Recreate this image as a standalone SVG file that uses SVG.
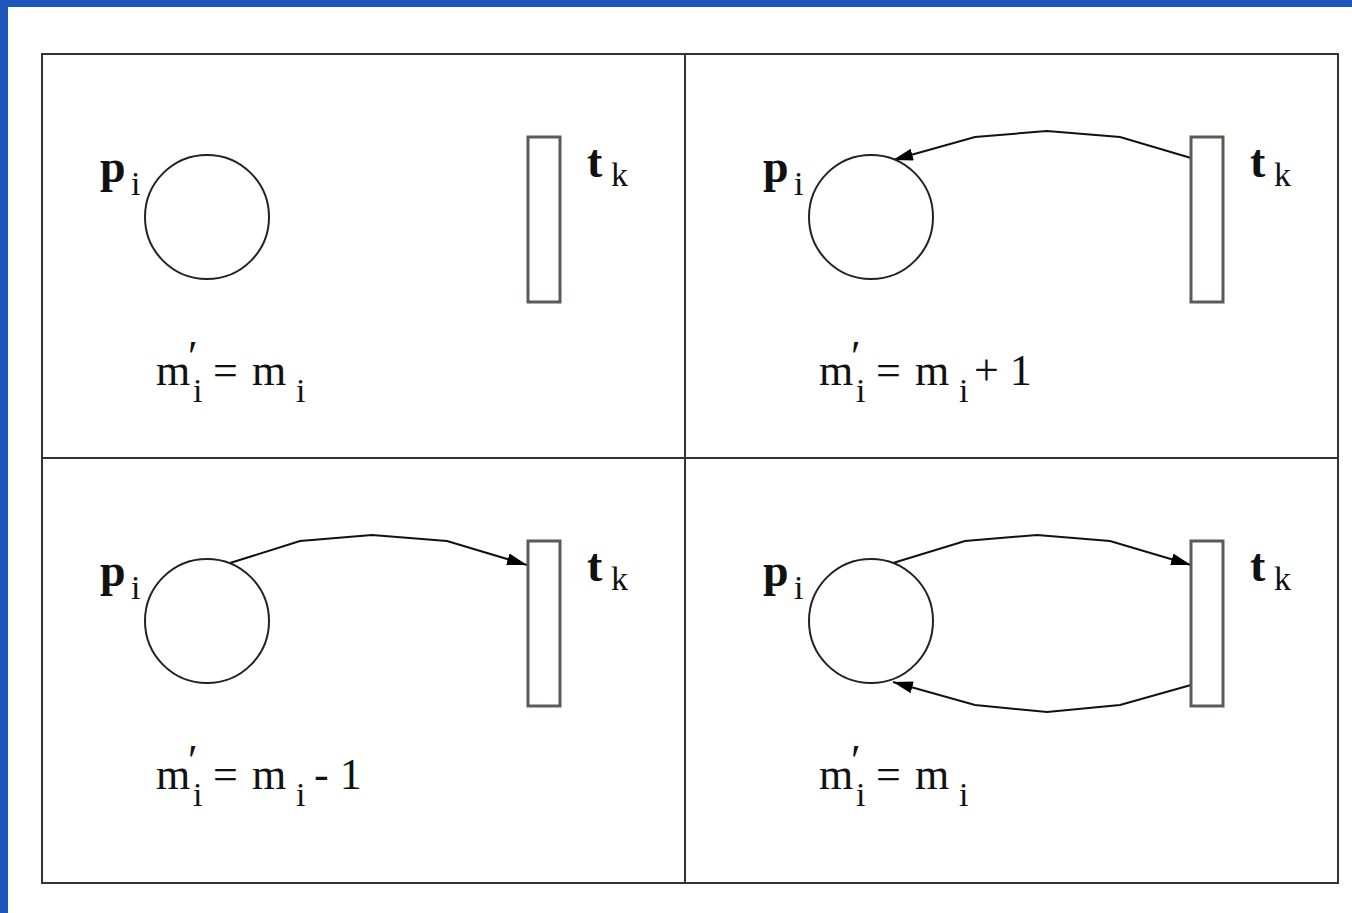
<svg xmlns="http://www.w3.org/2000/svg" width="1352" height="913" viewBox="0 0 1352 913">
<defs>
<marker id="ah2" viewBox="0 0 20 12" refX="20" refY="6" markerWidth="20" markerHeight="12" markerUnits="userSpaceOnUse" orient="auto">
<path d="M0,0 L20,6 L0,12 z" fill="#000"/>
</marker>
</defs>
<style>
.frame{fill:none;stroke:#333;stroke-width:2}
.place{fill:#fff;stroke:#222;stroke-width:2}
.trans{fill:#fff;stroke:#555e55;stroke-width:3}
.arc{fill:none;stroke:#111;stroke-width:2;marker-end:url(#ah2)}
.lbl{font-family:"Liberation Serif",serif;font-weight:bold;font-size:46px;fill:#111}
.sub{font-family:"Liberation Serif",serif;font-size:34px;font-weight:normal}
.eq{font-family:"Liberation Serif",serif;font-size:44px;fill:#111}
</style>
<rect x="0" y="0" width="1352" height="913" fill="#fff"/>
<rect x="0" y="0" width="1352" height="7" fill="#1f56bb"/>
<rect x="0" y="0" width="8" height="913" fill="#1f56bb"/>
<g id="frame">
<rect class="frame" x="42" y="54" width="1296" height="829"/>
<line class="frame" x1="685" y1="54" x2="685" y2="883"/>
<line class="frame" x1="42" y1="458" x2="1338" y2="458"/>
</g>
<g id="connectors">
<polyline class="arc" points="1191,158 1120,137 1047,131 975,137 893,160"/>
<polyline class="arc" points="230,563 300,541 372,535 447,541 527,565"/>
<polyline class="arc" points="893,563 965,541 1037,535 1110,541 1191,565"/>
<polyline class="arc" points="1191,685 1120,705 1047,712 975,705 893,682"/>
</g>
<g id="q1">
<circle class="place" cx="207" cy="217" r="62"/>
<rect class="trans" x="528" y="137" width="32" height="165"/>
<text class="lbl" x="100" y="182">p<tspan class="sub" x="131" y="195">i</tspan></text>
<text class="lbl" x="587" y="177">t<tspan class="sub" x="611" y="186">k</tspan></text>
<text class="eq" x="156" y="385">m<tspan x="188" y="371">′</tspan><tspan class="sub" x="193" y="402">i</tspan><tspan x="213" y="385">=</tspan><tspan x="252" y="385">m</tspan><tspan class="sub" x="296" y="402">i</tspan></text>
</g>
<g id="q2">
<circle class="place" cx="871" cy="217" r="62"/>
<rect class="trans" x="1191" y="137" width="32" height="165"/>
<text class="lbl" x="763" y="182">p<tspan class="sub" x="794" y="195">i</tspan></text>
<text class="lbl" x="1250" y="177">t<tspan class="sub" x="1274" y="186">k</tspan></text>
<text class="eq" x="819" y="385">m<tspan x="851" y="371">′</tspan><tspan class="sub" x="856" y="402">i</tspan><tspan x="876" y="385">=</tspan><tspan x="915" y="385">m</tspan><tspan class="sub" x="959" y="402">i</tspan><tspan x="974" y="385">+ 1</tspan></text>
</g>
<g id="q3">
<circle class="place" cx="207" cy="621" r="62"/>
<rect class="trans" x="528" y="541" width="32" height="165"/>
<text class="lbl" x="100" y="586">p<tspan class="sub" x="131" y="599">i</tspan></text>
<text class="lbl" x="587" y="581">t<tspan class="sub" x="611" y="590">k</tspan></text>
<text class="eq" x="156" y="789">m<tspan x="188" y="775">′</tspan><tspan class="sub" x="193" y="806">i</tspan><tspan x="213" y="789">=</tspan><tspan x="252" y="789">m</tspan><tspan class="sub" x="296" y="806">i</tspan><tspan x="314" y="789">- 1</tspan></text>
</g>
<g id="q4">
<circle class="place" cx="871" cy="621" r="62"/>
<rect class="trans" x="1191" y="541" width="32" height="165"/>
<text class="lbl" x="763" y="586">p<tspan class="sub" x="794" y="599">i</tspan></text>
<text class="lbl" x="1250" y="581">t<tspan class="sub" x="1274" y="590">k</tspan></text>
<text class="eq" x="819" y="789">m<tspan x="851" y="775">′</tspan><tspan class="sub" x="856" y="806">i</tspan><tspan x="876" y="789">=</tspan><tspan x="915" y="789">m</tspan><tspan class="sub" x="959" y="806">i</tspan></text>
</g>
</svg>
